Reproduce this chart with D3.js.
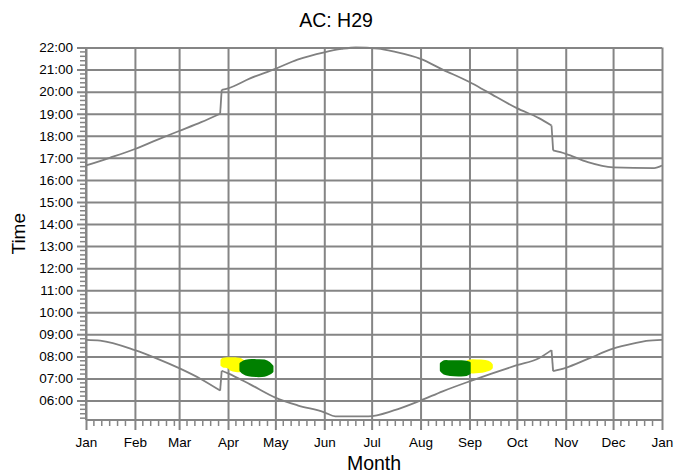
<!DOCTYPE html>
<html>
<head>
<meta charset="utf-8">
<script src="https://cdn.jsdelivr.net/npm/d3@7"></script>
<style>
  body { margin: 0; background: #fff; }
  text { font-family: Arial, "Liberation Sans", sans-serif; fill: #000; }
</style>
</head>
<body>
<div id="chart-area"></div>
<script>
// AC: H29 - sunrise / sunset times with the two reflection windows

const monthLabels = ['Jan', 'Feb', 'Mar', 'Apr', 'May', 'Jun', 'Jul', 'Aug', 'Sep', 'Oct', 'Nov', 'Dec', 'Jan'];
const hourTicks = [6, 7, 8, 9, 10, 11, 12, 13, 14, 15, 16, 17, 18, 19, 20, 21, 22];

const sunsetDates = ['2017-01-01', '2017-01-16', '2017-02-01', '2017-02-15', '2017-03-01', '2017-03-15', '2017-03-27',
    '2017-03-28', '2017-04-01', '2017-04-15', '2017-05-01', '2017-05-15', '2017-06-01', '2017-06-12', '2017-06-21',
    '2017-07-05', '2017-07-16', '2017-08-01', '2017-08-15', '2017-09-01', '2017-09-12', '2017-10-01', '2017-10-15',
    '2017-10-23', '2017-10-24', '2017-11-01', '2017-11-15', '2017-12-01', '2017-12-27', '2018-01-01'];
const sunsetTimes = ['16:39', '17:00', '17:24', '17:49', '18:13', '18:37', '19:00',
    '20:05', '20:09', '20:36', '21:02', '21:27', '21:47', '21:56', '22:00',
    '21:57', '21:48', '21:29', '21:00', '20:26', '20:00', '19:15', '18:48',
    '18:28', '17:20', '17:11', '16:48', '16:34', '16:32', '16:39'];

const sunriseDates = ['2017-01-01', '2017-01-10', '2017-02-01', '2017-02-15', '2017-03-01', '2017-03-15', '2017-03-27',
    '2017-03-28', '2017-04-01', '2017-04-15', '2017-05-01', '2017-05-15', '2017-06-01', '2017-06-08', '2017-06-29',
    '2017-07-15', '2017-08-01', '2017-08-15', '2017-09-01', '2017-09-15', '2017-10-01', '2017-10-15', '2017-10-23',
    '2017-10-24', '2017-11-01', '2017-11-15', '2017-12-01', '2017-12-15', '2017-12-22', '2018-01-01'];
const sunriseTimes = ['08:45', '08:43', '08:17', '07:54', '07:28', '06:58', '06:27',
    '07:21', '07:14', '06:44', '06:08', '05:47', '05:28', '05:17', '05:17',
    '05:33', '06:00', '06:25', '06:52', '07:13', '07:36', '07:55', '08:17',
    '07:20', '07:29', '07:53', '08:21', '08:36', '08:42', '08:45'];

// reflection windows: date, upper edge, lower edge
const springYellowDates = ['2017-03-28', '2017-03-29', '2017-04-01', '2017-04-03', '2017-04-06', '2017-04-09', '2017-04-11'];
const springYellowTop = ['07:50', '07:53', '07:54', '07:54', '07:54', '07:52', '07:46'];
const springYellowBottom = ['07:36', '07:33', '07:31', '07:24', '07:21', '07:21', '07:24'];

const springGreenDates = ['2017-04-09', '2017-04-11', '2017-04-14', '2017-04-19', '2017-04-24', '2017-04-27', '2017-04-29'];
const springGreenTop = ['07:40', '07:46', '07:49', '07:49', '07:48', '07:42', '07:33'];
const springGreenBottom = ['07:22', '07:14', '07:09', '07:07', '07:08', '07:13', '07:19'];

const autumnGreenDates = ['2017-08-14', '2017-08-16', '2017-08-20', '2017-08-26', '2017-08-30', '2017-09-01'];
const autumnGreenTop = ['07:40', '07:46', '07:46', '07:46', '07:45', '07:42'];
const autumnGreenBottom = ['07:22', '07:14', '07:10', '07:09', '07:10', '07:14'];

const autumnYellowDates = ['2017-08-31', '2017-09-03', '2017-09-07', '2017-09-11', '2017-09-14', '2017-09-15'];
const autumnYellowTop = ['07:47', '07:49', '07:48', '07:47', '07:42', '07:37'];
const autumnYellowBottom = ['07:18', '07:17', '07:18', '07:21', '07:25', '07:29'];

const W = 676, H = 474;
const margin = { left: 86, right: 14, top: 47.5, bottom: 54 };
const width = W - margin.left - margin.right;
const height = H - margin.top - margin.bottom;
const gridColor = '#858585';

const parseDate = d3.timeParse('%Y-%m-%d');
const hours = (s) => {
    const p = s.split(':');
    return +p[0] + (+p[1]) / 60;
};

const svg = d3.select('#chart-area')
    .append('svg')
    .attr('width', W)
    .attr('height', H);

const g = svg.append('g')
    .attr('transform', 'translate(' + margin.left + ', ' + margin.top + ')');

const x = d3.scaleTime()
    .domain([parseDate('2017-01-01'), parseDate('2018-01-01')])
    .range([0, width]);

const y = d3.scaleLinear()
    .domain([5 + 7 / 60, 22])
    .range([height, 0]);

// minor ticks
const minorDays = d3.timeDay.every(5).range(x.domain()[0], x.domain()[1])
    .filter((d) => d.getDate() !== 1 && d.getDate() !== 31);
g.selectAll('.minor-x')
    .data(minorDays)
    .enter().append('line')
    .attr('x1', (d) => x(d)).attr('x2', (d) => x(d))
    .attr('y1', height).attr('y2', height + 6)
    .attr('stroke', gridColor).attr('stroke-width', 1.5);

const minorHours = d3.range(26, 111).map((v) => v / 5).filter((v) => v % 1 !== 0 && v >= y.domain()[0]);
g.selectAll('.minor-y')
    .data(minorHours)
    .enter().append('line')
    .attr('x1', -6).attr('x2', 0)
    .attr('y1', (d) => y(d)).attr('y2', (d) => y(d))
    .attr('stroke', gridColor).attr('stroke-width', 1.5);

// axes (their tick lines double as the grid)
const xAxis = d3.axisBottom(x)
    .tickValues(monthLabels.map((m, i) => new Date(2017, i, 1)))
    .tickFormat((d, i) => monthLabels[i])
    .tickSizeInner(-height)
    .tickSizeOuter(0);

const xg = g.append('g')
    .attr('transform', 'translate(0,' + height + ')')
    .call(xAxis);
xg.select('.domain').remove();
xg.selectAll('.tick line')
    .attr('y1', 10)
    .attr('stroke', gridColor).attr('stroke-width', 2);
xg.selectAll('text')
    .attr('font-size', '13.5px')
    .attr('y', 17);

const yAxis = d3.axisLeft(y)
    .tickValues(hourTicks)
    .tickFormat((d) => d3.format('02d')(d) + ':00')
    .tickSizeInner(-width)
    .tickSizeOuter(0);

const yg = g.append('g').call(yAxis);
yg.select('.domain').remove();
yg.selectAll('.tick line')
    .attr('x1', -9)
    .attr('stroke', gridColor).attr('stroke-width', 2);
yg.selectAll('text')
    .attr('font-size', '13.5px')
    .attr('x', -13);

// left and bottom axis lines
g.append('line')
    .attr('x1', 0).attr('x2', 0).attr('y1', 0).attr('y2', height)
    .attr('stroke', gridColor).attr('stroke-width', 2);
g.append('line')
    .attr('x1', 0).attr('x2', width).attr('y1', height).attr('y2', height)
    .attr('stroke', gridColor).attr('stroke-width', 2);

// reflection windows
const area = d3.area()
    .x((d) => x(d.date))
    .y0((d) => y(d.lo))
    .y1((d) => y(d.hi))
    .curve(d3.curveCatmullRom);

const blobs = [
    [springYellowDates, springYellowTop, springYellowBottom, '#ffff00'],
    [autumnYellowDates, autumnYellowTop, autumnYellowBottom, '#ffff00'],
    [springGreenDates, springGreenTop, springGreenBottom, '#008000'],
    [autumnGreenDates, autumnGreenTop, autumnGreenBottom, '#008000']
];
blobs.forEach((b) => {
    const rows = b[0].map((d, i) => ({ date: parseDate(d), hi: hours(b[1][i]), lo: hours(b[2][i]) }));
    g.append('path')
        .datum(rows)
        .attr('d', area)
        .attr('fill', b[3])
        .attr('stroke', b[3])
        .attr('stroke-width', 2.5)
        .attr('stroke-linejoin', 'round');
});

// sunrise / sunset lines, split at the clock changes so the smoothing stays local
const line = d3.line()
    .x((d) => x(d.date))
    .y((d) => y(d.t))
    .curve(d3.curveMonotoneX);

[[sunsetDates, sunsetTimes], [sunriseDates, sunriseTimes]].forEach((s) => {
    const rows = s[0].map((d, i) => ({ date: parseDate(d), t: hours(s[1][i]) }));
    const segments = [[rows[0]]];
    for (let i = 1; i < rows.length; i++) {
        const prev = rows[i - 1], cur = rows[i];
        const jump = (cur.date - prev.date) <= 864e5 * 1.5 && Math.abs(cur.t - prev.t) > 0.5;
        if (jump) {
            // the clock change itself is a straight step
            g.append('path')
                .datum([prev, cur])
                .attr('d', d3.line().x((d) => x(d.date)).y((d) => y(d.t)))
                .attr('fill', 'none')
                .attr('stroke', '#808080')
                .attr('stroke-width', 1.8);
            segments.push([cur]);
        } else {
            segments[segments.length - 1].push(cur);
        }
    }
    segments.forEach((seg) => {
        g.append('path')
            .datum(seg)
            .attr('d', line)
            .attr('fill', 'none')
            .attr('stroke', '#808080')
            .attr('stroke-width', 1.8);
    });
});

// titles
svg.append('text')
    .attr('x', 336)
    .attr('y', 27)
    .attr('text-anchor', 'middle')
    .attr('font-size', '19.5px')
    .text('AC: H29');

svg.append('text')
    .attr('x', margin.left + width / 2)
    .attr('y', 470)
    .attr('text-anchor', 'middle')
    .attr('font-size', '19.5px')
    .text('Month');

svg.append('text')
    .attr('transform', 'translate(25,' + (margin.top + height / 2) + ') rotate(-90)')
    .attr('text-anchor', 'middle')
    .attr('font-size', '19px')
    .text('Time');
</script>
</body>
</html>
